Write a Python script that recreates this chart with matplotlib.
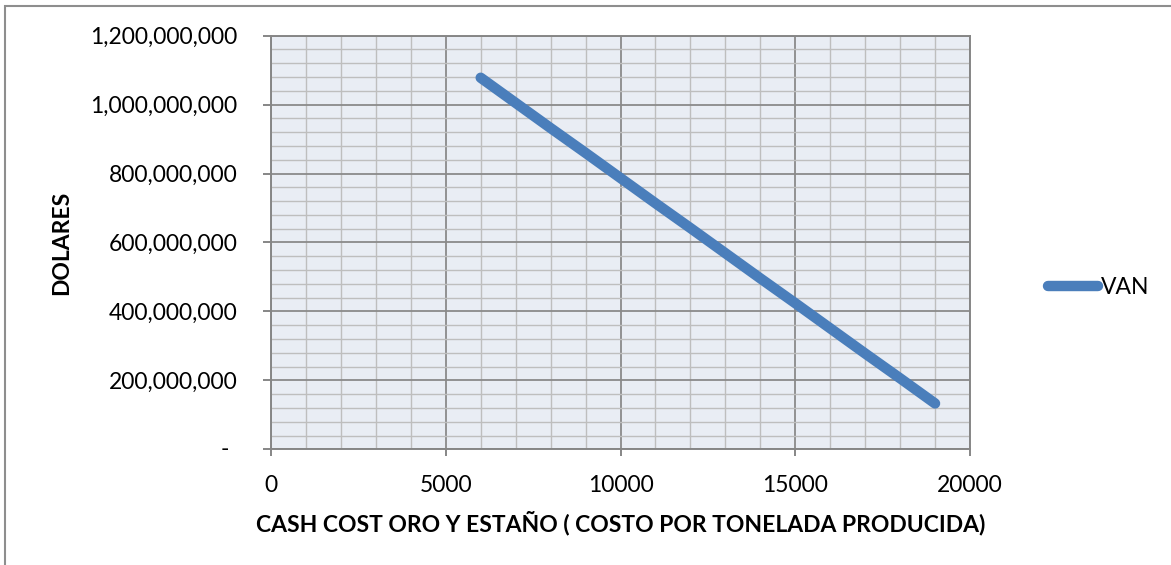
import matplotlib
matplotlib.use("Agg")
import matplotlib.pyplot as plt
from matplotlib.ticker import MultipleLocator, FuncFormatter
from matplotlib.patches import Rectangle

plt.rcParams["font.family"] = ["Lato", "DejaVu Sans"]

# Cash cost per ton (USD) and resulting NPV (USD)
cash_cost = [6000, 7000, 8000, 9000, 10000, 11000, 12000, 13000,
             14000, 15000, 16000, 17000, 18000, 19000]
van = [1078e6, 1005e6, 932e6, 860e6, 787e6, 714e6, 642e6, 569e6,
       496e6, 424e6, 351e6, 278e6, 206e6, 133e6]

series_name = "VAN"
x_label = "CASH COST ORO Y ESTAÑO ( COSTO POR TONELADA PRODUCIDA)"
y_label = "DOLARES"

W, H = 1171, 565
FS = 16.5
fig = plt.figure(figsize=(W / 100, H / 100), dpi=100)

# outer chart frame
fig.add_artist(Rectangle((5 / W, -0.1), 1.2, 1 - 6 / H + 0.1,
                         transform=fig.transFigure, fill=False,
                         edgecolor="#8E8E8E", linewidth=1.5))

ax = fig.add_axes([271 / W, 1 - 449.3 / H, 699 / W, 413.6 / H])
ax.set_facecolor("#E9EDF4")

line_color = "#4A7EBB"
ax.plot(cash_cost, van, color=line_color, linewidth=7.5,
        solid_capstyle="round", label=series_name, zorder=3)

ax.set_xlim(0, 20000)
ax.set_ylim(0, 1.2e9)
ax.xaxis.set_major_locator(MultipleLocator(5000))
ax.xaxis.set_minor_locator(MultipleLocator(1000))
ax.yaxis.set_major_locator(MultipleLocator(200e6))
ax.yaxis.set_minor_locator(MultipleLocator(40e6))

ax.grid(which="minor", color="#BEBEBE", linewidth=1.0, zorder=0)
ax.grid(which="major", color="#8A8A8A", linewidth=1.3, zorder=1)
ax.set_axisbelow(True)

for s in ax.spines.values():
    s.set_color("#868686")
    s.set_linewidth(1.4)

def yfmt(v, pos):
    if abs(v) < 1:
        return ""
    return f"{v:,.0f}"

ax.yaxis.set_major_formatter(FuncFormatter(yfmt))
ax.xaxis.set_major_formatter(FuncFormatter(lambda v, p: f"{v:.0f}"))

ax.tick_params(which="major", axis="y", direction="out", length=5.8,
               width=1.4, color="#868686", pad=18.5, labelsize=FS,
               labelcolor="#000000")
ax.tick_params(which="major", axis="x", direction="out", length=5,
               width=1.4, color="#868686", pad=13.5, labelsize=FS,
               labelcolor="#000000")
ax.tick_params(which="minor", length=0)

# accounting-style dash for zero
ax.text(-0.0658, 0, "-", transform=ax.get_yaxis_transform(),
        ha="center", va="center", fontsize=FS)

ax.set_xlabel(x_label, fontsize=FS, fontweight="bold")
ax.set_ylabel(y_label, fontsize=FS, fontweight="bold")
ax.xaxis.set_label_coords(0.5, (449.3 - 523) / 413.6)
ax.yaxis.set_label_coords((62 - 271) / 699, 0.5)
ax.xaxis.label.set_va("center")
ax.yaxis.label.set_va("center")

fig.legend(loc="center left", bbox_to_anchor=(1048 / W, 1 - 288 / H),
           frameon=False, fontsize=FS, handlelength=2.2,
           handletextpad=0.1, borderpad=0, borderaxespad=0)

fig.savefig("out.png", dpi=100)
